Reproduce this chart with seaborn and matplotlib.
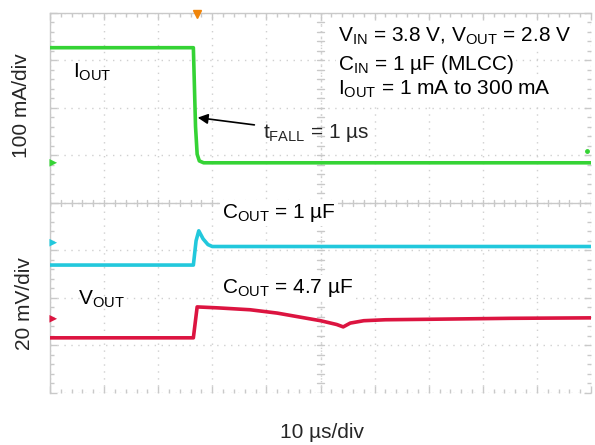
import numpy as np
import pandas as pd
import matplotlib
matplotlib.use("Agg")
import matplotlib.pyplot as plt
from matplotlib.ticker import MultipleLocator
import seaborn as sns

# ---- data (time in µs, vertical position in scope divisions 0..8) ----
iout_t = [0.0, 26.5, 26.9, 27.2, 27.6, 28.4, 30.0, 100.0]
iout_y = [7.26, 7.26, 5.60, 5.02, 4.88, 4.84, 4.84, 4.84]

c1_t = [0.0, 26.5, 27.0, 27.5, 28.3, 29.2, 30.0, 100.0]
c1_y = [2.69, 2.69, 3.20, 3.41, 3.24, 3.12, 3.08, 3.08]

c47_t = [0.0, 26.5, 27.2, 31.0, 37.0, 42.0, 46.0, 50.0, 53.0, 54.2, 55.5, 58.0, 62.0, 70.0, 85.0, 100.0]
c47_y = [1.16, 1.16, 1.81, 1.79, 1.75, 1.68, 1.60, 1.52, 1.44, 1.39, 1.47, 1.52, 1.54, 1.55, 1.57, 1.58]

marker_y = [4.84, 3.16, 1.56]          # channel ground markers on left edge
marker_trace = ["IOUT", "C1", "C47"]
trig_t = 27.2                          # trigger position

palette = {"IOUT": "#35d335", "C1": "#22c8dc", "C47": "#dc1440"}

df = pd.concat([
    pd.DataFrame({"t": iout_t, "y": iout_y, "trace": "IOUT"}),
    pd.DataFrame({"t": c1_t, "y": c1_y, "trace": "C1"}),
    pd.DataFrame({"t": c47_t, "y": c47_y, "trace": "C47"}),
], ignore_index=True)

sns.set_style("white")
plt.rcParams["font.family"] = ["Liberation Sans", "DejaVu Sans"]
plt.rcParams["mathtext.fontset"] = "custom"
plt.rcParams["mathtext.rm"] = "Liberation Sans"
plt.rcParams["mathtext.it"] = "Liberation Sans:italic"
plt.rcParams["mathtext.bf"] = "Liberation Sans:bold"

fig = plt.figure(figsize=(5.95, 4.45), dpi=100)
ax = fig.add_axes([50/595, (445-393)/445, 541/595, 380.5/445])
ax.set_xlim(0, 100)
ax.set_ylim(0, 8)

grid_c = "#c9c9c9"
# graticule
for s in ["left", "top", "right", "bottom"]:
    ax.spines[s].set_visible(s in ("left", "top"))
    ax.spines[s].set_color(grid_c)
    ax.spines[s].set_linewidth(1.0)
ax.xaxis.set_major_locator(MultipleLocator(10))
ax.xaxis.set_minor_locator(MultipleLocator(2))
ax.yaxis.set_major_locator(MultipleLocator(1))
ax.yaxis.set_minor_locator(MultipleLocator(0.2))
ax.tick_params(which="both", direction="in", top=True, bottom=True, left=True, right=True,
               labelbottom=False, labelleft=False, color=grid_c, width=1)
ax.tick_params(which="major", length=5)
ax.tick_params(which="minor", length=3)
ax.grid(True, which="major", color="#d0d0d0", linestyle=(0, (1, 4)), linewidth=1)
ax.axhline(4, color=grid_c, lw=1, zorder=1)
ax.axvline(50, color="#d0d0d0", lw=1, ls=(0, (1, 3)), zorder=1)
for xm in np.arange(0, 100.01, 2):
    ax.plot([xm, xm], [4 - 0.06, 4 + 0.06], color=grid_c, lw=1, zorder=1)
for ym in np.arange(0, 8.01, 0.2):
    ax.plot([50 - 0.6, 50 + 0.6], [ym, ym], color=grid_c, lw=1, zorder=1)

FS = 15
txt_kw = dict(fontsize=FS, color="black", zorder=3)
bbox = dict(facecolor="white", edgecolor="none", pad=1.5)

# traces
sns.lineplot(data=df, x="t", y="y", hue="trace", palette=palette, sort=False,
             estimator=None, linewidth=2.6, legend=False, ax=ax, zorder=4)

mk = pd.DataFrame({"t": [0.6] * 3, "y": marker_y, "trace": marker_trace})
sns.scatterplot(data=mk, x="t", y="y", hue="trace", palette=palette, marker=">",
                s=30, legend=False, ax=ax, zorder=5, edgecolor="none", clip_on=False)
ax.plot([trig_t], [7.97], marker="v", color="#f0850a", ms=6, clip_on=False, zorder=5)
ax.plot([99.3], [5.09], marker="o", color=palette["IOUT"], ms=2.5, zorder=5)
ax.set_xlabel("")
ax.set_ylabel("")

# annotations
ax.text(4.25, 6.74, r"I$_{\mathrm{OUT}}$", ha="left", va="center", **txt_kw)
ax.text(5.2, 1.96, r"V$_{\mathrm{OUT}}$", ha="left", va="center", **txt_kw)
ax.text(31.8, 3.79, r"C$_{\mathrm{OUT}}$ = 1 µF", ha="left", va="center", bbox=bbox, **txt_kw)
ax.text(31.8, 2.21, r"C$_{\mathrm{OUT}}$ = 4.7 µF", ha="left", va="center", bbox=bbox, **txt_kw)
ax.annotate(r"t$_{\mathrm{FALL}}$ = 1 µs", xy=(27.3, 5.79), xytext=(39.4, 5.47),
            ha="left", va="center", fontsize=FS, zorder=6,
            arrowprops=dict(arrowstyle="-|>", color="black", lw=1.2, mutation_scale=15,
                            shrinkA=4, shrinkB=0))
ax.text(53.2, 7.49, r"V$_{\mathrm{IN}}$ = 3.8 V, V$_{\mathrm{OUT}}$ = 2.8 V", ha="left", va="center", bbox=bbox, **txt_kw)
ax.text(53.2, 6.91, r"C$_{\mathrm{IN}}$ = 1 µF (MLCC)", ha="left", va="center", bbox=bbox, **txt_kw)
ax.text(53.2, 6.38, r"I$_{\mathrm{OUT}}$ = 1 mA to 300 mA", ha="left", va="center", bbox=bbox, **txt_kw)

fig.text(22/595, 1 - 106/445, "100 mA/div", rotation=90, ha="center", va="center", fontsize=FS)
fig.text(25/595, 1 - 304/445, "20 mV/div", rotation=90, ha="center", va="center", fontsize=FS)
fig.text(322/595, 1 - 433/445, "10 µs/div", ha="center", va="center", fontsize=FS)

fig.savefig("out.png", dpi=100, facecolor="white")
